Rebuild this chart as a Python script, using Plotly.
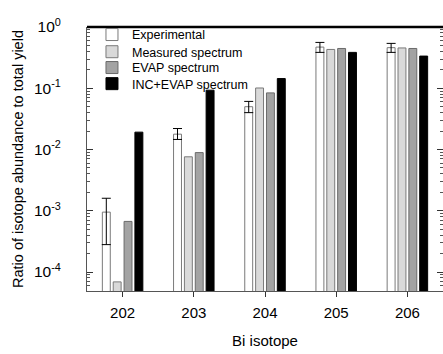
import plotly.graph_objects as go

isotopes = [202, 203, 204, 205, 206]
tick_labels = ["202", "203", "204", "205", "206"]
experimental = [9.5e-4, 0.0178, 0.050, 0.47, 0.46]
exp_err_plus = [6.5e-4, 0.0042, 0.011, 0.09, 0.08]
exp_err_minus = [6.7e-4, 0.0032, 0.010, 0.085, 0.075]
measured = [6.9e-5, 0.0076, 0.101, 0.43, 0.455]
evap = [6.7e-4, 0.0089, 0.084, 0.446, 0.446]
inc_evap = [0.0192, 0.093, 0.144, 0.385, 0.335]

series_names = ["Experimental", "Measured spectrum", "EVAP spectrum", "INC+EVAP spectrum"]
fills = ["#ffffff", "#d9d9d9", "#a3a3a3", "#000000"]
outlines = ["#7a7a7a", "#7a7a7a", "#6a6a6a", "#000000"]
legend_ids = ["legend", "legend2", "legend3", "legend4"]
legend_y = [0.970, 0.905, 0.845, 0.784]

y_tickvals = [1, 0.1, 0.01, 0.001, 0.0001]
y_ticktext = ["10<sup>0</sup>", "10<sup>-1</sup>", "10<sup>-2</sup>", "10<sup>-3</sup>", "10<sup>-4</sup>"]

fig = go.Figure()
datasets = [experimental, measured, evap, inc_evap]
for i, (name, vals) in enumerate(zip(series_names, datasets)):
    kw = {}
    if i == 0:
        kw["error_y"] = dict(type="data", symmetric=False, array=exp_err_plus,
                             arrayminus=exp_err_minus, color="black",
                             thickness=1, width=4.5)
    fig.add_trace(go.Bar(
        x=isotopes, y=vals, name=name, legend=legend_ids[i],
        marker=dict(color=fills[i], line=dict(color=outlines[i], width=1)),
        **kw))

legend_common = dict(x=0.014, xanchor="left", yanchor="middle",
                     bgcolor="rgba(0,0,0,0)", font=dict(size=12.5),
                     itemwidth=30)
fig.update_layout(
    width=443, height=354,
    margin=dict(l=87, r=0, t=27, b=63, autoexpand=False),
    paper_bgcolor="white", plot_bgcolor="white",
    barmode="group", bargap=0.39, bargroupgap=0.27,
    font=dict(family="Liberation Sans, Arial, sans-serif", color="black", size=14),
    showlegend=True,
    legend=dict(y=legend_y[0], **legend_common),
    legend2=dict(y=legend_y[1], **legend_common),
    legend3=dict(y=legend_y[2], **legend_common),
    legend4=dict(y=legend_y[3], **legend_common),
)
fig.update_xaxes(
    range=[201.5, 206.5], tickvals=isotopes, ticktext=tick_labels,
    showgrid=False, zeroline=False, automargin=False,
    showline=True, linecolor="#555555", linewidth=1,
    ticks="outside", ticklen=5, tickcolor="#333333",
    ticklabelstandoff=3,
    tickfont=dict(size=15),
    title=dict(text="Bi isotope", font=dict(size=15), standoff=15),
)
fig.update_yaxes(
    type="log", range=[-4.31, 0],
    tickvals=y_tickvals, ticktext=y_ticktext,
    showgrid=False, zeroline=False, automargin=False,
    showline=True, linecolor="#555555", linewidth=1, mirror="ticks",
    ticks="inside", ticklen=6, tickcolor="#333333",
    ticklabelstandoff=22,
    minor=dict(ticks="inside", ticklen=3, tickcolor="#555555",
               tickvals=[k * 10.0 ** e for e in range(-5, 0) for k in range(2, 10)]),
    tickfont=dict(size=15.5),
    title=dict(text="Ratio of isotope abundance to total yield", font=dict(size=14.5), standoff=6),
)
fig.add_shape(type="line", xref="paper", yref="paper", x0=0, x1=1, y0=1, y1=1,
              line=dict(color="black", width=2.5))

fig.write_html("out.html", config={"displayModeBar": False},
               post_script="document.body.style.margin='0';")
